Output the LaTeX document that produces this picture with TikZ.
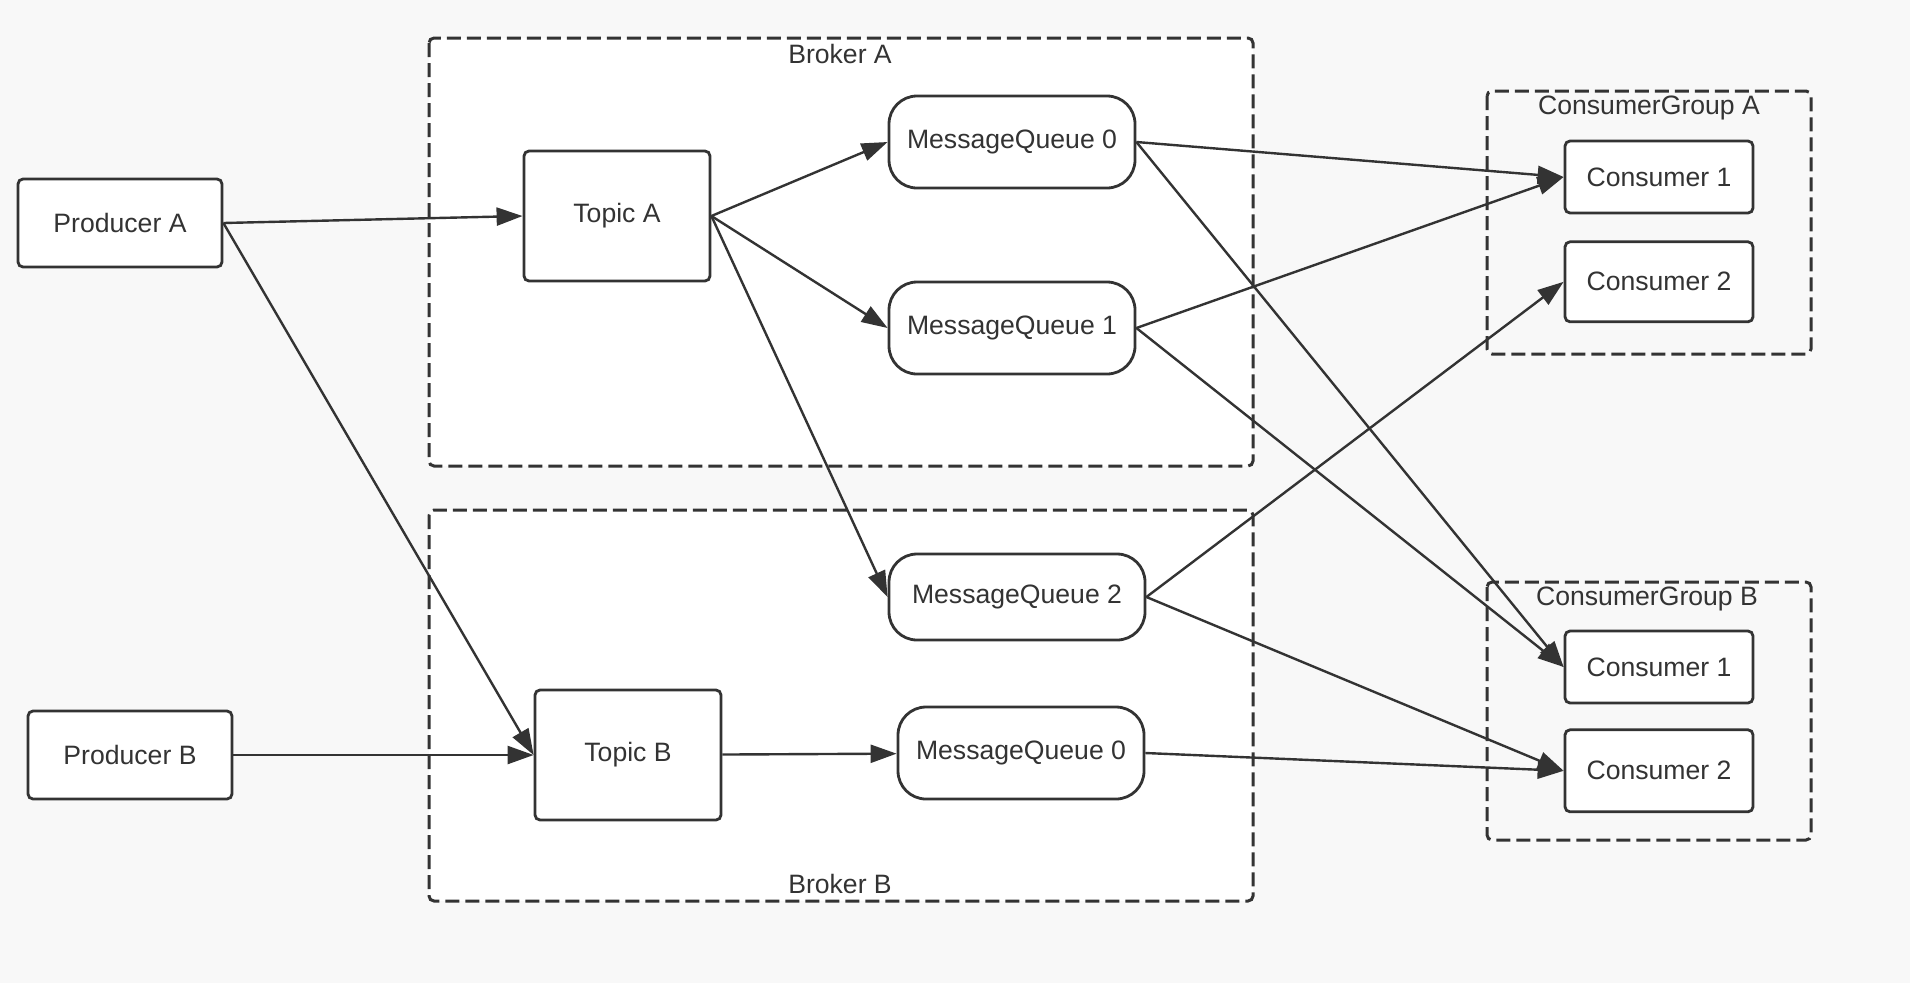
\documentclass[tikz,border=0pt]{standalone}
\usepackage{fontspec}
\setmainfont{Liberation Sans}
\usepackage{xcolor}
\usetikzlibrary{positioning,arrows.meta}
\definecolor{ink}{HTML}{333333}
\definecolor{canvas}{HTML}{F8F8F8}

\begin{document}
\begin{tikzpicture}[x=0.5pt,y=-0.5pt,
      every node/.style={font=\fontsize{13.3}{16}\selectfont,text=ink},
      box/.style={draw=ink,fill=white,line width=1.4pt,rounded corners=2.5pt,inner sep=0pt,align=center},
      producer/.style={box,minimum width=102pt,minimum height=44pt},
      topic/.style={box,minimum width=93pt,minimum height=65pt},
      queue/.style={box,rounded corners=14pt,minimum width=123pt,minimum height=46pt},
      consumer/.style={box,minimum width=94pt,minimum height=36pt},
      frame/.style={draw=ink,line width=1.5pt,dash pattern=on 7pt off 3pt,rounded corners=2.5pt},
      arrow/.style={-{Triangle[length=13pt,width=9pt]},line width=1.2pt,draw=ink}]
      % canvas
      \fill[canvas] (0,0) rectangle (1910,992);
      \fill[white] (0,983) rectangle (1910,992);
      \useasboundingbox (0,0) rectangle (1910,992);
      % brokers and consumer groups
      \draw[frame,fill=white] (429,38) rectangle (1253,466);
      \draw[frame,fill=white] (429,510) rectangle (1253,901);
      \draw[frame] (1487,91) rectangle (1811,354);
      \draw[frame] (1487,582) rectangle (1811,840);
      \node (brkA) at (840,54) {Broker A};
      \node (brkB) at (840,884) {Broker B};
      \node (grpA) at (1649,108) {ConsumerGroup A};
      \node (grpB) at (1647,599) {ConsumerGroup B};
      % producers and topics
      \node[producer] (prodA) at (120,223) {Producer A};
      \node[producer] (prodB) at (130,755) {Producer B};
      \node[topic] (topA) at (617,216) {Topic A};
      \node[topic] (topB) at (628,755) {Topic B};
      % queues
      \node[queue] (qA0) at (1012,142) {MessageQueue 0};
      \node[queue] (qA1) at (1012,328) {MessageQueue 1};
      \node[queue,minimum width=128pt,minimum height=43pt] (qA2) at (1017,597) {MessageQueue 2};
      \node[queue] (qB0) at (1021,753) {MessageQueue 0};
      % consumers
      \node[consumer] (cA1) at (1659,177) {Consumer 1};
      \node[consumer,minimum height=40pt,below=13pt of cA1] (cA2) {Consumer 2};
      \node[consumer] (cB1) at (1659,667) {Consumer 1};
      \node[consumer,minimum height=41pt,below=12pt of cB1] (cB2) {Consumer 2};
      % flows
      \draw[arrow] (prodA.east)--(topA.west); \draw[arrow] (prodA.east)--(topB.west);
      \draw[arrow] (prodB)--(topB);
      \draw[arrow] (topA.east)--(qA0.west); \draw[arrow] (topA.east)--(qA1.west);
      \draw[arrow] (topA.east)--(qA2.west); \draw[arrow] (topB)--(qB0);
      \draw[arrow] (qA0.east)--(cA1.west); \draw[arrow] (qA0.east)--(cB1.west);
      \draw[arrow] (qA1.east)--(cA1.west); \draw[arrow] (qA1.east)--(cB1.west);
      \draw[arrow] (qA2.east)--(cA2.west); \draw[arrow] (qA2.east)--(cB2.west);
      \draw[arrow] (qB0.east)--(cB2.west);
    \end{tikzpicture}
\end{document}
